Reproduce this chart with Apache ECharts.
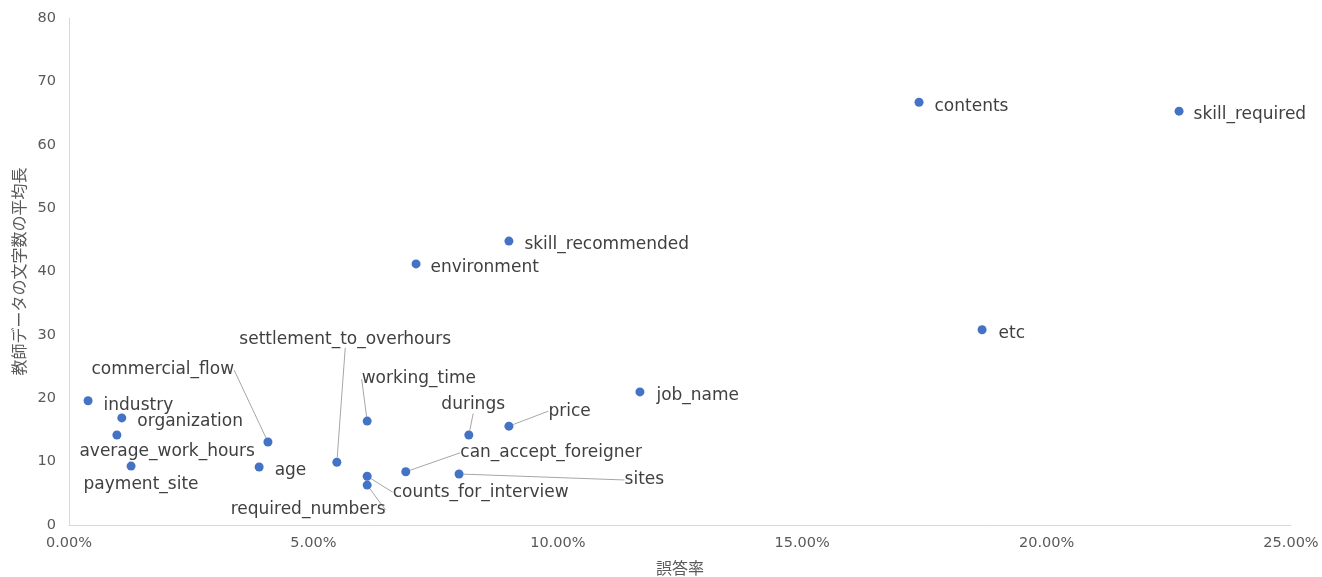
<!DOCTYPE html>
<html><head><meta charset="utf-8">
<script src="https://cdn.jsdelivr.net/npm/echarts@6/dist/echarts.min.js"></script>
<style>html,body{margin:0;padding:0;background:#fff}#c{width:1322px;height:577px}</style>
</head><body><div id="c"></div>
<script>
const names = ["industry","organization","average_work_hours","payment_site","age","commercial_flow","settlement_to_overhours","working_time","counts_for_interview","required_numbers","can_accept_foreigner","sites","durings","price","job_name","skill_recommended","environment","contents","skill_required","etc"];
const errorRate = [0.0039,0.0108,0.0098,0.0127,0.0389,0.0407,0.0548,0.0610,0.0610,0.0610,0.0689,0.0798,0.0818,0.0900,0.1168,0.0900,0.0710,0.1739,0.2271,0.1868];
const avgLength = [19.6,16.9,14.2,9.3,9.15,13.1,9.9,16.4,7.7,6.3,8.4,8.05,14.2,15.6,21.0,44.8,41.2,66.7,65.3,30.8];
const xTicks = [0,0.05,0.10,0.15,0.20,0.25];
const yTicks = [0,10,20,30,40,50,60,70,80];

// label displacement (style), relative to the default right-side label
const labelOffsets = {
  industry:[6,5], organization:[6,4], average_work_hours:[-47,17], payment_site:[-57,19],
  age:[6,4], commercial_flow:[-186,-72], settlement_to_overhours:[-107,-123],
  working_time:[-15,-42], counts_for_interview:[16,16], required_numbers:[-146,25],
  can_accept_foreigner:[45,-19], sites:[156,6], durings:[-37,-30], price:[30,-15],
  job_name:[7,4], skill_recommended:[6,3], environment:[5,4], contents:[6,4],
  skill_required:[5,3], etc:[7,4]
};
const withLine = new Set(["commercial_flow","settlement_to_overhours","working_time","counts_for_interview","required_numbers","can_accept_foreigner","sites","durings","price"]);

const font = "'DejaVu Sans','Noto Sans CJK JP',sans-serif";
const jpFont = "'Noto Sans CJK JP',sans-serif";
const data = names.map((n,i)=>({
  name:n, value:[errorRate[i],avgLength[i]],
  labelLine:{show:withLine.has(n), lineStyle:{color:'#A6A6A6',width:1}}
}));

const chart = echarts.init(document.getElementById('c'));
chart.setOption({
  animation:false,
  grid:{left:69,right:31,top:18,bottom:52,outerBoundsMode:'none',containLabel:false},
  xAxis:{type:'value',min:0,max:0.25,interval:0.05,
    name:'誤答率',nameLocation:'middle',nameGap:35,
    nameTextStyle:{color:'#595959',fontSize:16,fontFamily:jpFont},
    axisLine:{show:true,lineStyle:{color:'#D9D9D9'}},axisTick:{show:false},splitLine:{show:false},
    axisLabel:{color:'#595959',fontSize:14.5,fontFamily:font,margin:11,
      formatter:v=>(v*100).toFixed(2)+'%'}},
  yAxis:{type:'value',min:0,max:80,interval:10,
    name:'教師データの文字数の平均長',nameLocation:'middle',nameGap:41,nameRotate:90,
    nameTextStyle:{color:'#595959',fontSize:16,fontFamily:jpFont},
    axisLine:{show:true,lineStyle:{color:'#D9D9D9'}},axisTick:{show:false},splitLine:{show:false},
    axisLabel:{color:'#595959',fontSize:14.5,fontFamily:font,margin:13}},
  series:[{
    type:'scatter',symbolSize:9,itemStyle:{color:'#4472C4',opacity:1},
    data:data,
    label:{show:true,position:'right',distance:5,formatter:'{b}',color:'#404040',fontSize:17,fontFamily:font},
    labelLine:{show:false,lineStyle:{color:'#A6A6A6'}},
    labelLayout:function(p){
      const o = labelOffsets[names[p.dataIndex]]||[0,0];
      return {dx:o[0],dy:o[1]};
    }
  }]
});
</script></body></html>
